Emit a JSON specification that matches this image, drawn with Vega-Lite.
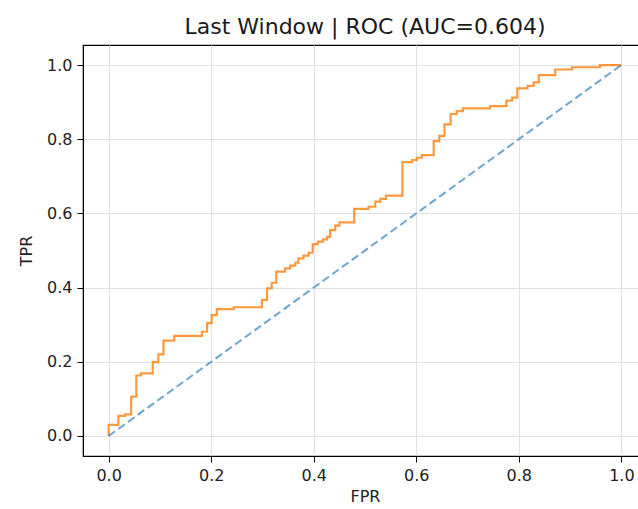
{
  "$schema": "https://vega.github.io/schema/vega-lite/v6.json",
  "autosize": "none",
  "width": 564,
  "height": 411,
  "padding": {"left": 83, "top": 45, "right": 0, "bottom": 53},
  "title": {"text": "Last Window | ROC (AUC=0.604)", "fontSize": 22, "font": "DejaVu Sans", "fontWeight": "normal", "color": "#1a1a1a", "offset": 6, "anchor": "middle"},
  "config": {
    "view": {"stroke": "#000000", "strokeWidth": 1.2},
    "axis": {
      "labelFont": "DejaVu Sans", "titleFont": "DejaVu Sans", "labelFontSize": 16, "titleFontSize": 16,
      "titleFontWeight": "normal", "labelColor": "#222222", "titleColor": "#222222",
      "domainColor": "#000000", "tickColor": "#000000", "tickSize": 6, "gridColor": "#e2e2e2", "gridWidth": 1
    }
  },
  "datasets": {
    "roc": [
      {"fpr": 0, "tpr": 0}, {"fpr": 0, "tpr": 0.03}, {"fpr": 0.019, "tpr": 0.03}, {"fpr": 0.019, "tpr": 0.054},
      {"fpr": 0.032, "tpr": 0.054}, {"fpr": 0.032, "tpr": 0.058}, {"fpr": 0.044, "tpr": 0.058}, {"fpr": 0.044, "tpr": 0.106},
      {"fpr": 0.054, "tpr": 0.106}, {"fpr": 0.054, "tpr": 0.163}, {"fpr": 0.063, "tpr": 0.163}, {"fpr": 0.063, "tpr": 0.169},
      {"fpr": 0.086, "tpr": 0.169}, {"fpr": 0.086, "tpr": 0.199}, {"fpr": 0.097, "tpr": 0.199}, {"fpr": 0.097, "tpr": 0.22},
      {"fpr": 0.107, "tpr": 0.22}, {"fpr": 0.107, "tpr": 0.257}, {"fpr": 0.128, "tpr": 0.257}, {"fpr": 0.128, "tpr": 0.27},
      {"fpr": 0.182, "tpr": 0.27}, {"fpr": 0.182, "tpr": 0.281}, {"fpr": 0.192, "tpr": 0.281}, {"fpr": 0.192, "tpr": 0.304},
      {"fpr": 0.201, "tpr": 0.304}, {"fpr": 0.201, "tpr": 0.326}, {"fpr": 0.211, "tpr": 0.326}, {"fpr": 0.211, "tpr": 0.342},
      {"fpr": 0.244, "tpr": 0.342}, {"fpr": 0.244, "tpr": 0.347}, {"fpr": 0.299, "tpr": 0.347}, {"fpr": 0.299, "tpr": 0.367},
      {"fpr": 0.309, "tpr": 0.367}, {"fpr": 0.309, "tpr": 0.398}, {"fpr": 0.318, "tpr": 0.398}, {"fpr": 0.318, "tpr": 0.413},
      {"fpr": 0.327, "tpr": 0.413}, {"fpr": 0.327, "tpr": 0.443}, {"fpr": 0.344, "tpr": 0.443}, {"fpr": 0.344, "tpr": 0.452},
      {"fpr": 0.354, "tpr": 0.452}, {"fpr": 0.354, "tpr": 0.459}, {"fpr": 0.364, "tpr": 0.459}, {"fpr": 0.364, "tpr": 0.467},
      {"fpr": 0.37, "tpr": 0.467}, {"fpr": 0.37, "tpr": 0.479}, {"fpr": 0.38, "tpr": 0.479}, {"fpr": 0.38, "tpr": 0.486},
      {"fpr": 0.39, "tpr": 0.486}, {"fpr": 0.39, "tpr": 0.494}, {"fpr": 0.398, "tpr": 0.494}, {"fpr": 0.398, "tpr": 0.517},
      {"fpr": 0.408, "tpr": 0.517}, {"fpr": 0.408, "tpr": 0.524}, {"fpr": 0.418, "tpr": 0.524}, {"fpr": 0.418, "tpr": 0.53},
      {"fpr": 0.426, "tpr": 0.53}, {"fpr": 0.426, "tpr": 0.537}, {"fpr": 0.432, "tpr": 0.537}, {"fpr": 0.432, "tpr": 0.555},
      {"fpr": 0.442, "tpr": 0.555}, {"fpr": 0.442, "tpr": 0.567}, {"fpr": 0.45, "tpr": 0.567}, {"fpr": 0.45, "tpr": 0.576},
      {"fpr": 0.479, "tpr": 0.576}, {"fpr": 0.479, "tpr": 0.612}, {"fpr": 0.507, "tpr": 0.612}, {"fpr": 0.507, "tpr": 0.618},
      {"fpr": 0.52, "tpr": 0.618}, {"fpr": 0.52, "tpr": 0.632}, {"fpr": 0.53, "tpr": 0.632}, {"fpr": 0.53, "tpr": 0.639},
      {"fpr": 0.541, "tpr": 0.639}, {"fpr": 0.541, "tpr": 0.648}, {"fpr": 0.573, "tpr": 0.648}, {"fpr": 0.573, "tpr": 0.738},
      {"fpr": 0.592, "tpr": 0.738}, {"fpr": 0.592, "tpr": 0.744}, {"fpr": 0.601, "tpr": 0.744}, {"fpr": 0.601, "tpr": 0.75},
      {"fpr": 0.611, "tpr": 0.75}, {"fpr": 0.611, "tpr": 0.757}, {"fpr": 0.634, "tpr": 0.757}, {"fpr": 0.634, "tpr": 0.795},
      {"fpr": 0.645, "tpr": 0.795}, {"fpr": 0.645, "tpr": 0.809}, {"fpr": 0.655, "tpr": 0.809}, {"fpr": 0.655, "tpr": 0.84},
      {"fpr": 0.667, "tpr": 0.84}, {"fpr": 0.667, "tpr": 0.868}, {"fpr": 0.679, "tpr": 0.868}, {"fpr": 0.679, "tpr": 0.876},
      {"fpr": 0.691, "tpr": 0.876}, {"fpr": 0.691, "tpr": 0.883}, {"fpr": 0.744, "tpr": 0.883}, {"fpr": 0.744, "tpr": 0.889},
      {"fpr": 0.776, "tpr": 0.889}, {"fpr": 0.776, "tpr": 0.904}, {"fpr": 0.787, "tpr": 0.904}, {"fpr": 0.787, "tpr": 0.912},
      {"fpr": 0.797, "tpr": 0.912}, {"fpr": 0.797, "tpr": 0.937}, {"fpr": 0.817, "tpr": 0.937}, {"fpr": 0.817, "tpr": 0.944},
      {"fpr": 0.829, "tpr": 0.944}, {"fpr": 0.829, "tpr": 0.953}, {"fpr": 0.839, "tpr": 0.953}, {"fpr": 0.839, "tpr": 0.973},
      {"fpr": 0.871, "tpr": 0.973}, {"fpr": 0.871, "tpr": 0.988}, {"fpr": 0.904, "tpr": 0.988}, {"fpr": 0.904, "tpr": 0.994},
      {"fpr": 0.958, "tpr": 0.994}, {"fpr": 0.958, "tpr": 1.0}, {"fpr": 1.0, "tpr": 1.0}
    ],
    "diag": [{"fpr": 0, "tpr": 0}, {"fpr": 1, "tpr": 1}]
  },
  "encoding": {
    "x": {"field": "fpr", "type": "quantitative", "title": "FPR",
      "scale": {"domain": [-0.05, 1.05], "nice": false, "zero": false},
      "axis": {"values": [0, 0.2, 0.4, 0.6, 0.8, 1.0], "format": ".1f", "labelPadding": 5, "titlePadding": 5}},
    "y": {"field": "tpr", "type": "quantitative", "title": "TPR",
      "scale": {"domain": [-0.054, 1.054], "nice": false, "zero": false},
      "axis": {"values": [0, 0.2, 0.4, 0.6, 0.8, 1.0], "format": ".1f", "labelPadding": 5, "titlePadding": 12}}
  },
  "layer": [
    {"data": {"name": "roc"}, "mark": {"type": "line", "color": "#ff7f0e", "opacity": 0.8, "strokeWidth": 2.2, "interpolate": "linear"}, "encoding": {"order": {"value": 0}}},
    {"data": {"name": "diag"}, "mark": {"type": "line", "color": "#1f77b4", "opacity": 0.65, "strokeWidth": 2, "strokeDash": [8, 4]}, "encoding": {}}
  ]
}
